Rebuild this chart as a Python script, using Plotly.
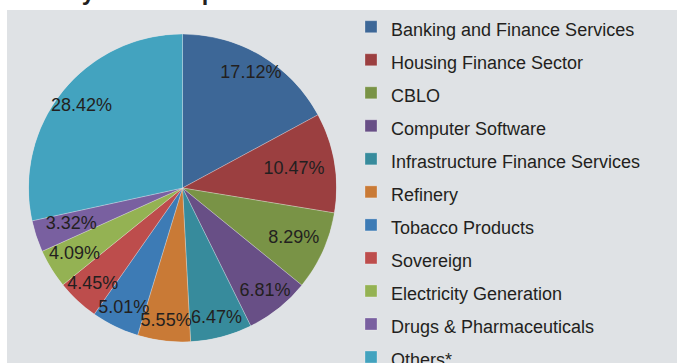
import math
import plotly.graph_objects as go

# Industry-wise exposure (% of portfolio)
categories = [
    "Banking and Finance Services",
    "Housing Finance Sector",
    "CBLO",
    "Computer Software",
    "Infrastructure Finance Services",
    "Refinery",
    "Tobacco Products",
    "Sovereign",
    "Electricity Generation",
    "Drugs & Pharmaceuticals",
    "Others*",
]
shares = [17.12, 10.47, 8.29, 6.81, 6.47, 5.55, 5.01, 4.45, 4.09, 3.32, 28.42]
slice_colors = [
    "#3d6797", "#9b3f40", "#799346", "#684f86", "#378b9c", "#c97a36",
    "#3d7bb5", "#bd4d4c", "#94b253", "#7960a0", "#43a3bf",
]

W, H = 677, 363
ML, MT = 7, 10
PW, PH = W - ML, H - MT

# pie geometry in pixels
cx, cy, rad = 182.5, 188.0, 154.0
dom_x = [(cx - rad - ML) / PW, (cx + rad - ML) / PW]
dom_y = [1 - (cy + rad - MT) / PH, 1 - (cy - rad - MT) / PH]

text_col = "#231f20"
font_fam = "Liberation Sans, Arial, sans-serif"
label_size = 18

# angular span and mid-angle of every slice (degrees clockwise from 12 o'clock)
total = sum(shares)
spans = [v / total * 360 for v in shares]
mid_angles = []
acc = 0.0
for s in spans:
    mid_angles.append(acc + s / 2)
    acc += s

label_texts = [f"{v:.2f}%" for v in shares]


def inside_end_radius(text, theta_deg, edge_px=144.0):
    """Radius (fraction of pie radius) that puts the label box just inside the rim."""
    digits = sum(ch.isdigit() for ch in text)
    half_w = 0.5 * label_size * (0.556 * digits + 0.278 + 0.889)
    half_h = 0.5 * label_size
    t = math.radians(theta_deg)
    sx, cy_ = abs(math.sin(t)), abs(math.cos(t))
    d = min(half_w / sx if sx > 1e-6 else 1e9, half_h / cy_ if cy_ > 1e-6 else 1e9)
    return (edge_px - d) / rad


label_r = [inside_end_radius(t, a) for t, a in zip(label_texts, mid_angles)]

fig = go.Figure()
# one wedge per industry, so each gets its own legend entry
for name, s, th, col in zip(categories, spans, mid_angles, slice_colors):
    fig.add_trace(
        go.Barpolar(
            r=[1],
            theta=[th],
            width=[s],
            name=f"<span style='font-size:18px'>{name}</span>",
            marker=dict(color=col, line=dict(color="rgba(255,255,255,0.45)", width=0.6)),
            hoverinfo="skip",
        )
    )
# percentage labels near the outer end of each slice
fig.add_trace(
    go.Scatterpolar(
        r=label_r,
        theta=mid_angles,
        mode="text",
        text=label_texts,
        textposition="middle center",
        textfont=dict(size=label_size, color=text_col, family=font_fam),
        showlegend=False,
        hoverinfo="skip",
    )
)

fig.update_layout(
    width=W,
    height=H,
    margin=dict(l=ML, r=0, t=MT, b=0),
    paper_bgcolor="white",
    font=dict(family=font_fam, color=text_col),
    polar=dict(
        domain=dict(x=dom_x, y=dom_y),
        bgcolor="rgba(0,0,0,0)",
        hole=0,
        radialaxis=dict(range=[0, 1], visible=False, showgrid=False),
        angularaxis=dict(direction="clockwise", rotation=90, visible=False, showgrid=False),
    ),
    showlegend=True,
    legend=dict(
        x=(351 - ML) / PW,
        xanchor="left",
        y=1 + 0.5 / PH,
        yanchor="top",
        font=dict(size=23.1, color=text_col, family=font_fam),
        title=dict(text=" ", font=dict(size=4)),
        bgcolor="rgba(0,0,0,0)",
        borderwidth=0,
        maxheight=500,
        traceorder="normal",
    ),
    shapes=[
        dict(
            type="rect", xref="paper", yref="paper",
            x0=0, x1=1, y0=0, y1=1,
            fillcolor="#dfe2e5", line=dict(width=0), layer="below",
        )
    ],
    annotations=[
        dict(
            text="<b>Industry - wise Exposure</b>",
            xref="paper", yref="paper",
            x=-ML / PW, xanchor="left", xshift=0,
            y=1, yanchor="bottom", yshift=3,
            showarrow=False,
            font=dict(size=23.5, color=text_col, family=font_fam),
        )
    ],
)

fig.write_html("out.html")
